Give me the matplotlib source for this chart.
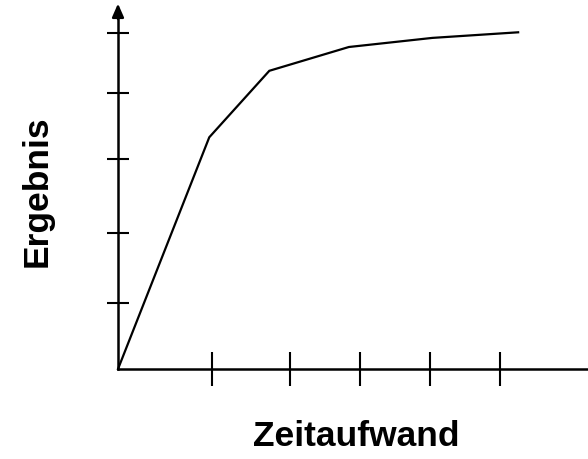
import matplotlib
matplotlib.use("Agg")
import matplotlib.pyplot as plt

plt.rcParams['font.family'] = ['Liberation Sans', 'DejaVu Sans']

# sketch curve: effort vs. result (arbitrary units)
effort = [0, 1.17, 1.94, 2.96, 4.03, 5.13]
result = [0, 3.31, 4.26, 4.60, 4.73, 4.81]

x_ticks = [1.2, 2.2, 3.1, 4.0, 4.9]
y_ticks = [0.95, 1.95, 3.0, 3.95, 4.8]

x_label = 'Zeitaufwand'
y_label = 'Ergebnis'

fig = plt.figure(figsize=(5.88, 4.6), dpi=100)
ax = fig.add_axes([0, 0, 1, 1])
ax.set_xlim(-118 / 78, (588 - 118) / 78)
ax.set_ylim(-90 / 70, 370 / 70)

ax.plot(effort, result, color='black', lw=1.6, solid_joinstyle='miter')

for s in ['top', 'right']:
    ax.spines[s].set_visible(False)
ax.spines['left'].set_position(('data', 0))
ax.spines['bottom'].set_position(('data', 0))
ax.spines['left'].set_bounds(0, 5.1)
ax.spines['bottom'].set_bounds(0, 6.1)
ax.spines['left'].set_linewidth(1.8)
ax.spines['bottom'].set_linewidth(1.8)

ax.set_xticks(x_ticks)
ax.set_yticks(y_ticks)
ax.set_xticklabels([])
ax.set_yticklabels([])
ax.tick_params(axis='x', direction='inout', length=25, width=1.5)
ax.tick_params(axis='y', direction='inout', length=15.5, width=1.5)

# arrow head on the vertical axis
ax.annotate('', xy=(0, 5.22), xytext=(0, 5.0),
            arrowprops=dict(arrowstyle='-|>,head_width=0.35,head_length=0.8',
                            color='black', lw=1.8, shrinkA=0, shrinkB=0))

fig.text(356 / 588, 1 - 437 / 460, x_label, fontsize=25.5, fontweight='bold',
         ha='center', va='center')
fig.text(37 / 588, 1 - 191 / 460, y_label, fontsize=25.5, fontweight='bold',
         ha='center', va='center', rotation=90)

fig.savefig('out.png', dpi=100)
